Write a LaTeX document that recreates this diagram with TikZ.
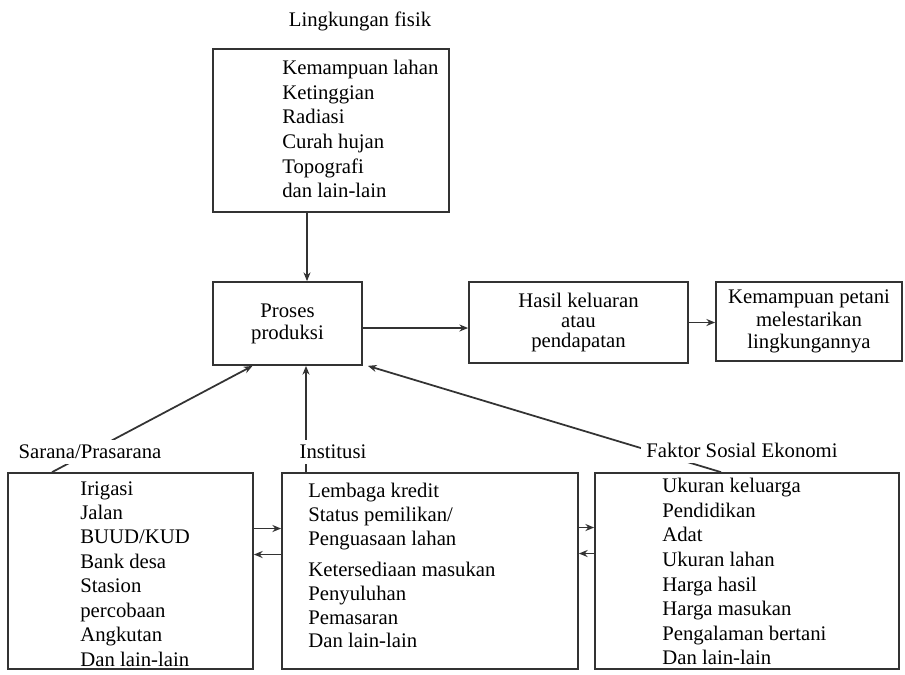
\documentclass[tikz,border=0pt]{standalone}
\usepackage{fontspec}
\setmainfont{Liberation Serif}
\usetikzlibrary{arrows.meta}

\tikzset{
  box/.style={draw=black!80, line width=1pt, rectangle, inner sep=0pt, align=center,
    text=black, font=\fontsize{11.8}{12.5}\selectfont},
  items/.style={anchor=north west, align=left, inner sep=0pt, text=black,
    font=\fontsize{11.8}{14}\selectfont},
  head/.style={fill=white, inner sep=3pt, text=black, font=\fontsize{11.8}{14}\selectfont},
  arr/.style={draw=black!80, line width=1pt, -{Stealth[length=5pt,width=4pt]}},
}

\begin{document}
\begin{tikzpicture}[x=0.02cm,y=-0.02cm]
\useasboundingbox (0,0) rectangle (905,674);
% kotak-kotak
\node[box, minimum width=4.72cm, minimum height=3.26cm] (fisik) at (331,130.5) {};
\node[box, minimum width=2.98cm, minimum height=1.66cm] (proses) at (287.5,323.5) {Proses\\produksi};
\node[box, minimum width=4.38cm, minimum height=1.62cm, font=\fontsize{11.8}{11.5}\selectfont] (hasil) at (578.5,322.5) {Hasil keluaran\\atau\\pendapatan};
\node[box, minimum width=3.72cm, minimum height=1.58cm, font=\fontsize{11.8}{13}\selectfont] (petani) at (809,321.5) {Kemampuan petani\\melestarikan\\lingkungannya};
\node[box, minimum width=4.9cm, minimum height=3.92cm] (sarana) at (130.5,571) {};
\node[box, minimum width=5.92cm, minimum height=3.92cm] (institusi) at (430,571) {};
\node[box, minimum width=6.08cm, minimum height=3.92cm] (faktor) at (747,571) {};

% isi kotak
\node[items] (lFisik) at (282,60) {Kemampuan lahan\\Ketinggian\\Radiasi\\Curah hujan\\Topografi\\dan lain-lain};
\node[items, font=\fontsize{11.8}{13.9}\selectfont] (lSarana) at (80,481) {Irigasi\\Jalan\\BUUD/KUD\\Bank desa\\Stasion\\percobaan\\Angkutan\\Dan lain-lain};
\node[items, font=\fontsize{11.8}{13.5}\selectfont] (lInst) at (308,483) {Lembaga kredit\\Status pemilikan/\\Penguasaan lahan\\[4.5pt]Ketersediaan masukan\\Penyuluhan\\Pemasaran\\Dan lain-lain};
\node[items] (lFaktor) at (662,478) {Ukuran keluarga\\Pendidikan\\Adat\\Ukuran lahan\\Harga hasil\\Harga masukan\\Pengalaman bertani\\Dan lain-lain};

% panah
\draw[arr] ([xshift=0.39cm]proses.north |- fisik.south) -- ([xshift=0.39cm]proses.north);
\draw[arr] ([yshift=-0.09cm]proses.east) -- ([yshift=-0.09cm]proses.east -| hasil.west);
\draw[arr] (hasil.east) -- (hasil.east -| petani.west);
\draw[arr] ([xshift=-1.57cm]sarana.north) -- ([xshift=-0.7cm]proses.south);
\draw[arr] ([xshift=0.37cm]proses.south |- institusi.north) -- ([xshift=0.37cm]proses.south);
\draw[arr] ([xshift=-0.52cm]faktor.north) -- ([xshift=0.1cm]proses.south east);
\draw[arr] ([yshift=0.85cm]sarana.east) -- ([yshift=0.85cm]sarana.east -| institusi.west);
\draw[arr] ([yshift=0.33cm]sarana.east -| institusi.west) -- ([yshift=0.33cm]sarana.east);
\draw[arr] ([yshift=0.87cm]institusi.east) -- ([yshift=0.87cm]institusi.east -| faktor.west);
\draw[arr] ([yshift=0.35cm]institusi.east -| faktor.west) -- ([yshift=0.35cm]institusi.east);

% judul
\node[head] (tFisik) at (360,21) {Lingkungan fisik};
\node[head] (tSarana) at (90,452) {Sarana/Prasarana};
\node[head] (tInst) at (333,452) {Institusi};
\node[head] (tFaktor) at (742,450) {Faktor Sosial Ekonomi};
\end{tikzpicture}
\end{document}
